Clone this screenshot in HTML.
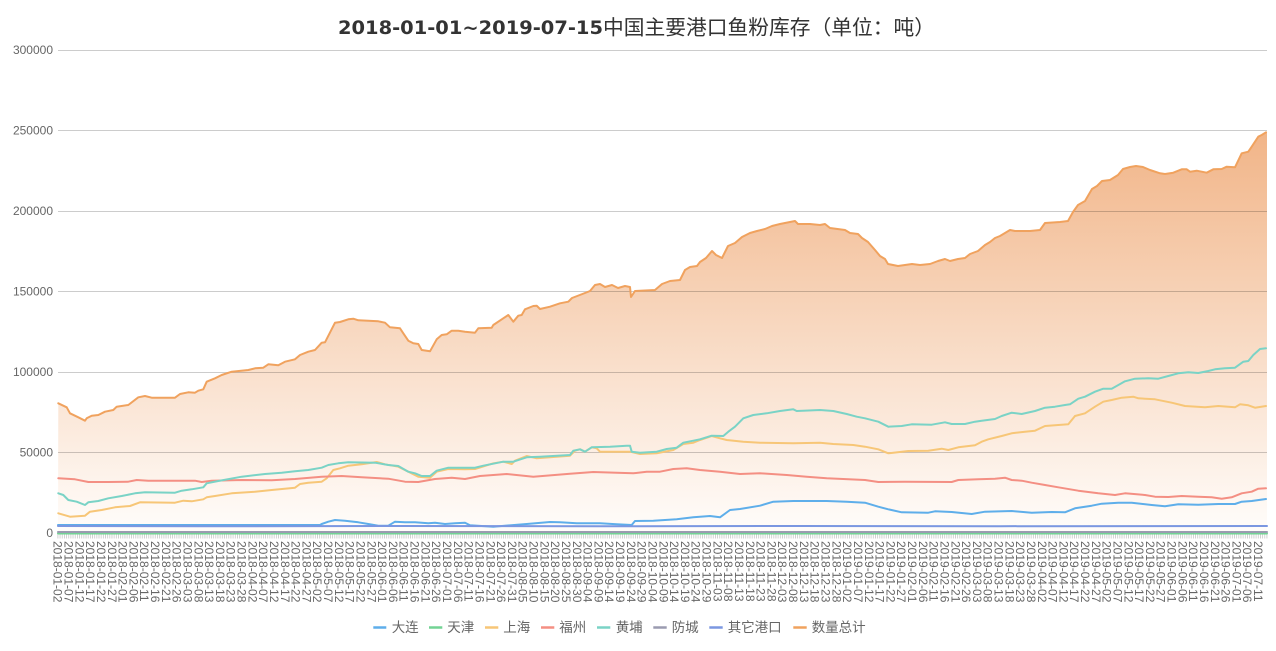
<!DOCTYPE html>
<html><head><meta charset="utf-8"><style>
html,body{margin:0;padding:0;background:#fff;}
svg{display:block;}
</style></head><body>
<svg width="1276" height="651" viewBox="0 0 1276 651" xmlns="http://www.w3.org/2000/svg">
<defs>
<linearGradient id="ag" gradientUnits="userSpaceOnUse" x1="0" y1="130" x2="0" y2="533">
<stop offset="0" stop-color="#f1b487"/>
<stop offset="1" stop-color="#fffdfb"/>
</linearGradient>
<pattern id="tk" patternUnits="userSpaceOnUse" x="57.5" y="0" width="2.1628" height="651">
<rect x="0" y="0" width="0.8" height="651" fill="#c8c8c8"/>
</pattern>
</defs>
<rect width="1276" height="651" fill="#fff"/>
<!-- title -->
<text y="34" font-size="19" fill="#333"><tspan x="338" font-family="'DejaVu Sans','Liberation Sans',sans-serif" font-weight="bold" textLength="265" lengthAdjust="spacingAndGlyphs">2018-01-01~2019-07-15</tspan></text>
<text x="603" y="34.5" font-size="20.5" fill="#333" font-family="'Liberation Sans','Noto Sans CJK SC',sans-serif" textLength="332" lengthAdjust="spacingAndGlyphs">中国主要港口鱼粉库存（单位：吨）</text>

<!-- total area -->
<polygon fill="url(#ag)" points="58,533 58.3,403.3 66.7,407.3 70,413.3 78.3,417.3 85,420.7 86.7,418.3 91.7,415.7 98.3,415 105,411.7 113.3,410 116.7,406.7 128.3,405 138.3,397.3 145,396 151.7,397.7 175,397.7 180,394 188.3,392.3 195,392.7 198.3,390.7 203.3,389.3 206.7,381.7 215,378.3 221.7,375 231.7,371.7 248.3,370 255,368.3 263.3,367.7 268.3,364.3 278.3,365.3 285,361.7 295,359.3 300,355 308.3,351.7 315,350 321.7,342.7 325,342.3 335,322.7 340,322 348.3,319.3 353.3,318.7 358.3,320.3 378.3,321.3 385,322.7 390,327.3 400,328.3 403.3,333.3 408.3,340.7 413.3,343.3 418.3,344 421.7,350 430,351.3 436.7,339.3 441.7,335 446.7,334.3 451.7,330.7 458.3,330.7 465,331.7 475,332.7 478.3,328.3 491.7,327.7 493.3,325 503.3,318.3 508.3,315 513.3,321.7 518.3,315.7 521.7,315 525,309.3 533.3,306 536.7,305.7 540,309 550,306.7 560,303.3 568.3,301.7 572,298 585,293 590,291 595,285 600,284 605,287 612,285 618,288 625,286 630,287 631,297 635,291 655,290 662,284 670,281 680,280 685,270 690,267 697,266 700,262 706,258 712,251 716,255 722,258 728,246 735,243 742,237 750,233 757,231 765,229 772,226 780,224 790,222 795,221 798,224 810,224 820,225 825,224 830,228 845,230 850,233 858,234 862,238 868,242 875,250 880,256 885,259 888,264 898,266 905,265 912,264 920,265 930,264 938,261 945,259 950,261 958,259 965,258 970,254 978,251 985,245 990,242 995,238 1000,236 1005,233 1010,230 1015,231 1030,231 1040,230 1045,223 1060,222 1068,221 1073,212 1078,205 1085,201 1092,189 1097,186 1102,181 1110,180 1118,175 1123,169 1130,167 1136,166 1143,167 1150,170 1160,173.3 1165,174 1173.3,172.7 1181.7,169.3 1186.7,169.3 1190,171.7 1196.7,170.7 1206.7,172.7 1213.3,169.3 1221.7,169 1226.7,166.7 1235,167.3 1241.7,153.3 1248.3,151.7 1251.7,146.7 1258.3,136.7 1261.7,135 1266,132.3 1267,132 1267,533"/>

<!-- grid lines -->
<g stroke="#000" stroke-opacity="0.2" stroke-width="1">
<line x1="58" y1="50.5" x2="1267" y2="50.5"/>
<line x1="58" y1="130.5" x2="1267" y2="130.5"/>
<line x1="58" y1="211.5" x2="1267" y2="211.5"/>
<line x1="58" y1="291.5" x2="1267" y2="291.5"/>
<line x1="58" y1="372.5" x2="1267" y2="372.5"/>
<line x1="58" y1="452.5" x2="1267" y2="452.5"/>
</g>

<!-- y labels -->
<g font-family="'Liberation Sans',sans-serif" font-size="12" fill="#666" text-anchor="end">
<text x="53" y="54">300000</text>
<text x="53" y="134.5">250000</text>
<text x="53" y="215">200000</text>
<text x="53" y="295.5">150000</text>
<text x="53" y="376">100000</text>
<text x="53" y="456.5">50000</text>
<text x="53" y="537">0</text>
</g>

<!-- ticks -->
<rect x="57.5" y="534.5" width="1210" height="4" fill="url(#tk)"/>

<g fill="none" stroke-width="2" stroke-linejoin="round" stroke-linecap="round">
<!-- 大连 -->
<polyline stroke="#5eaeea" points="58,525 320,525 321.7,524 328.3,521.7 335,520 345,520.7 358.3,522.3 368.3,524 378.3,525.7 388.3,525.7 395,521.7 405,522.3 415,522.3 428.3,523.3 435,522.7 445,524 455,523.3 465,522.7 470,525.3 493.3,526.7 526.7,524 550,522 560,522.3 576.7,523.3 600,523.3 616.7,524.3 631.7,525 635,521 653.3,520.7 676.7,519.3 693.3,517.3 710,516 720,517.3 730,510 740,509 760,505.7 773.3,501.7 793.3,501 813.3,501 826.7,501 846.7,501.7 865,502.7 878.3,506.7 888.3,509.3 901.7,512.3 928.3,512.7 935,511.3 951.7,512 971.7,514 985,511.7 1011.7,511 1031.7,512.7 1051.7,512 1065,512.3 1075,508.3 1091.7,505.7 1101.7,503.7 1118.3,502.7 1131.7,502.7 1151.7,505 1165,506.3 1178.3,504.3 1198.3,504.7 1218.3,504 1235,504 1241.7,501.7 1251.7,501 1266,499"/>
<!-- 天津 -->
<polyline stroke="#72d394" points="58,533.5 1267,533.5"/>
<!-- 上海 -->
<polyline stroke="#f7c677" points="58.3,513.3 70,516.7 85,515.7 90,511.7 101.7,510 115,507.3 130,506 140,502.3 175,502.7 183.3,500.7 191.7,501.3 203.3,499.3 206.7,497.3 215,496 231.7,493.3 255,491.7 271.7,490 295,487.7 300,484 308.3,482.7 321.7,481.7 326.7,478.3 333.3,470 340,468.3 348.3,465.7 361.7,464.3 376.7,462 385,464.3 398.3,466.7 408.3,471.7 418.3,476.7 430,477.7 436.7,471.7 448.3,469 465,469.3 475,469 493.3,463.3 503.3,461.7 511.7,464 515,460.7 526.7,456 536.7,458.3 570,455.7 575,450.7 580,449.3 585,451.7 591.7,447.3 596.7,448.3 600,451.7 610,451.7 630,451.7 640,454 656.7,453.3 673.3,450 683.3,444 693.3,442.7 700,440 711.7,436 720,438.3 726.7,440 743.3,441.7 760,442.7 793.3,443.3 820,442.7 833.3,444 853.3,445 865,446.7 878.3,449.3 888.3,453.3 908.3,451 928.3,450.7 941.7,448.7 948.3,450 958.3,447.3 975,445.3 981.7,441.7 988.3,439.3 1001.7,436 1011.7,433.3 1025,431.7 1035,430.7 1045,426 1068.3,424.3 1075,416 1085,413.3 1095,406.7 1103.3,401.7 1111.7,400 1121.7,397.7 1133.3,396.7 1138.3,398.3 1155,399.3 1171.7,402.7 1185,406 1205,407.3 1218.3,406 1235,407.3 1240,404.3 1248.3,405.3 1255,407.7 1266,406"/>
<!-- 福州 -->
<polyline stroke="#f48f83" points="58.3,478.3 75,479.3 88.3,482 108.3,482 128.3,481.7 136.7,480 148.3,480.7 195,480.7 201.7,482 211.7,480.7 241.7,480 271.7,480.3 295,479 321.7,476.7 341.7,476 361.7,477.3 388.3,478.7 405,481.7 418.3,482 435,479 451.7,477.7 465,479 480,476 506.7,474 533.3,476.7 570,473.7 593.3,472 616.7,472.7 633.3,473.3 646.7,471.7 660,471.7 673.3,469 686.7,468.3 700,470 720,471.7 740,474 760,473.3 786.7,475 806.7,476.7 826.7,478.3 865,480 878.3,482 905,481.7 951.7,482 958.3,480 978.3,479.3 995,478.7 1005,477.7 1011.7,480 1021.7,480.7 1031.7,482.7 1045,485 1058.3,487.3 1078.3,490.7 1098.3,493.3 1115,495 1125,493.3 1145,495 1155,496.7 1168.3,497 1181.7,496 1198.3,496.7 1211.7,497.3 1221.7,498.7 1231.7,497.3 1241.7,493.3 1251.7,491.7 1258.3,488.7 1266,488.3"/>
<!-- 黄埔 -->
<polyline stroke="#7ad3c6" points="58.3,493.3 63.3,495 68.3,500 76.7,501.7 85,505 88.3,502.3 98.3,501 108.3,498.3 121.7,496 135,493.3 145,492.3 175,492.7 181.7,490.7 191.7,489.3 203.3,487.3 206.7,483.3 218.3,481 241.7,476.7 265,474 281.7,472.7 295,471.3 308.3,470 321.7,467.7 328.3,465 338.3,463.3 348.3,462.3 375,462.7 388.3,465 398.3,466 408.3,471.7 415,473.3 421.7,476 430,476 436.7,470.7 448.3,467.7 465,467.7 475,467.7 483.3,465.7 503.3,461.7 513.3,461.7 526.7,457.3 540,456.7 570,455 573.3,450.7 580,449.3 585,451.7 591.7,447.3 610,446.7 626.7,445.7 630,445.7 631.7,451.7 640,452.7 656.7,451.7 666.7,449 676.7,447.7 683.3,442.7 693.3,440.7 700,439.3 711.7,435.7 723.3,436 728.3,431.7 735,426.7 743.3,418.3 753.3,415 766.7,413.3 780,411 793.3,409.3 796.7,411 820,410 833.3,411 846.7,414 856.7,416.7 865,418.3 878.3,421.7 888.3,426.7 901.7,426 911.7,424.3 931.7,424.7 945,422.3 951.7,424 965,424 975,421.7 981.7,420.7 995,419 1001.7,416 1011.7,412.7 1021.7,414 1035,411 1045,407.7 1055,406.7 1065,405 1070,404.3 1078.3,398.7 1085,396.7 1095,391.7 1103.3,388.7 1111.7,388.7 1125,381.3 1135,378.7 1148.3,378.3 1158.3,378.7 1168.3,376 1178.3,373.3 1188.3,372.3 1198.3,373 1208.3,371 1215,369.3 1225,368.3 1235,367.7 1243.3,361.7 1248.3,361 1253.3,355 1260,349 1266,348.3"/>
<!-- 防城 -->
<polyline stroke="#9a9bb0" points="58,532 1267,532"/>
<!-- 其它港口 -->
<polyline stroke="#7b97e1" points="58,526 200,526.3 400,526 600,526.3 800,526 1000,526.2 1267,526"/>
<!-- 数量总计 -->
<polyline stroke="#f0a25e" points="58.3,403.3 66.7,407.3 70,413.3 78.3,417.3 85,420.7 86.7,418.3 91.7,415.7 98.3,415 105,411.7 113.3,410 116.7,406.7 128.3,405 138.3,397.3 145,396 151.7,397.7 175,397.7 180,394 188.3,392.3 195,392.7 198.3,390.7 203.3,389.3 206.7,381.7 215,378.3 221.7,375 231.7,371.7 248.3,370 255,368.3 263.3,367.7 268.3,364.3 278.3,365.3 285,361.7 295,359.3 300,355 308.3,351.7 315,350 321.7,342.7 325,342.3 335,322.7 340,322 348.3,319.3 353.3,318.7 358.3,320.3 378.3,321.3 385,322.7 390,327.3 400,328.3 403.3,333.3 408.3,340.7 413.3,343.3 418.3,344 421.7,350 430,351.3 436.7,339.3 441.7,335 446.7,334.3 451.7,330.7 458.3,330.7 465,331.7 475,332.7 478.3,328.3 491.7,327.7 493.3,325 503.3,318.3 508.3,315 513.3,321.7 518.3,315.7 521.7,315 525,309.3 533.3,306 536.7,305.7 540,309 550,306.7 560,303.3 568.3,301.7 572,298 585,293 590,291 595,285 600,284 605,287 612,285 618,288 625,286 630,287 631,297 635,291 655,290 662,284 670,281 680,280 685,270 690,267 697,266 700,262 706,258 712,251 716,255 722,258 728,246 735,243 742,237 750,233 757,231 765,229 772,226 780,224 790,222 795,221 798,224 810,224 820,225 825,224 830,228 845,230 850,233 858,234 862,238 868,242 875,250 880,256 885,259 888,264 898,266 905,265 912,264 920,265 930,264 938,261 945,259 950,261 958,259 965,258 970,254 978,251 985,245 990,242 995,238 1000,236 1005,233 1010,230 1015,231 1030,231 1040,230 1045,223 1060,222 1068,221 1073,212 1078,205 1085,201 1092,189 1097,186 1102,181 1110,180 1118,175 1123,169 1130,167 1136,166 1143,167 1150,170 1160,173.3 1165,174 1173.3,172.7 1181.7,169.3 1186.7,169.3 1190,171.7 1196.7,170.7 1206.7,172.7 1213.3,169.3 1221.7,169 1226.7,166.7 1235,167.3 1241.7,153.3 1248.3,151.7 1251.7,146.7 1258.3,136.7 1261.7,135 1266,132.3"/>
</g>

<!-- x labels -->
<g font-family="'Liberation Sans',sans-serif" font-size="12" fill="#666">
<text transform="translate(58,541) rotate(90)" y="4.3">2018-01-02</text>
<text transform="translate(68.8,541) rotate(90)" y="4.3">2018-01-07</text>
<text transform="translate(79.6,541) rotate(90)" y="4.3">2018-01-12</text>
<text transform="translate(90.4,541) rotate(90)" y="4.3">2018-01-17</text>
<text transform="translate(101.3,541) rotate(90)" y="4.3">2018-01-22</text>
<text transform="translate(112.1,541) rotate(90)" y="4.3">2018-01-27</text>
<text transform="translate(122.9,541) rotate(90)" y="4.3">2018-02-01</text>
<text transform="translate(133.7,541) rotate(90)" y="4.3">2018-02-06</text>
<text transform="translate(144.5,541) rotate(90)" y="4.3">2018-02-11</text>
<text transform="translate(155.3,541) rotate(90)" y="4.3">2018-02-16</text>
<text transform="translate(166.1,541) rotate(90)" y="4.3">2018-02-21</text>
<text transform="translate(177,541) rotate(90)" y="4.3">2018-02-26</text>
<text transform="translate(187.8,541) rotate(90)" y="4.3">2018-03-03</text>
<text transform="translate(198.6,541) rotate(90)" y="4.3">2018-03-08</text>
<text transform="translate(209.4,541) rotate(90)" y="4.3">2018-03-13</text>
<text transform="translate(220.2,541) rotate(90)" y="4.3">2018-03-18</text>
<text transform="translate(231,541) rotate(90)" y="4.3">2018-03-23</text>
<text transform="translate(241.8,541) rotate(90)" y="4.3">2018-03-28</text>
<text transform="translate(252.7,541) rotate(90)" y="4.3">2018-04-02</text>
<text transform="translate(263.5,541) rotate(90)" y="4.3">2018-04-07</text>
<text transform="translate(274.3,541) rotate(90)" y="4.3">2018-04-12</text>
<text transform="translate(285.1,541) rotate(90)" y="4.3">2018-04-17</text>
<text transform="translate(295.9,541) rotate(90)" y="4.3">2018-04-22</text>
<text transform="translate(306.7,541) rotate(90)" y="4.3">2018-04-27</text>
<text transform="translate(317.5,541) rotate(90)" y="4.3">2018-05-02</text>
<text transform="translate(328.4,541) rotate(90)" y="4.3">2018-05-07</text>
<text transform="translate(339.2,541) rotate(90)" y="4.3">2018-05-12</text>
<text transform="translate(350,541) rotate(90)" y="4.3">2018-05-17</text>
<text transform="translate(360.8,541) rotate(90)" y="4.3">2018-05-22</text>
<text transform="translate(371.6,541) rotate(90)" y="4.3">2018-05-27</text>
<text transform="translate(382.4,541) rotate(90)" y="4.3">2018-06-01</text>
<text transform="translate(393.2,541) rotate(90)" y="4.3">2018-06-06</text>
<text transform="translate(404,541) rotate(90)" y="4.3">2018-06-11</text>
<text transform="translate(414.9,541) rotate(90)" y="4.3">2018-06-16</text>
<text transform="translate(425.7,541) rotate(90)" y="4.3">2018-06-21</text>
<text transform="translate(436.5,541) rotate(90)" y="4.3">2018-06-26</text>
<text transform="translate(447.3,541) rotate(90)" y="4.3">2018-07-01</text>
<text transform="translate(458.1,541) rotate(90)" y="4.3">2018-07-06</text>
<text transform="translate(468.9,541) rotate(90)" y="4.3">2018-07-11</text>
<text transform="translate(479.7,541) rotate(90)" y="4.3">2018-07-16</text>
<text transform="translate(490.6,541) rotate(90)" y="4.3">2018-07-21</text>
<text transform="translate(501.4,541) rotate(90)" y="4.3">2018-07-26</text>
<text transform="translate(512.2,541) rotate(90)" y="4.3">2018-07-31</text>
<text transform="translate(523,541) rotate(90)" y="4.3">2018-08-05</text>
<text transform="translate(533.8,541) rotate(90)" y="4.3">2018-08-10</text>
<text transform="translate(544.6,541) rotate(90)" y="4.3">2018-08-15</text>
<text transform="translate(555.4,541) rotate(90)" y="4.3">2018-08-20</text>
<text transform="translate(566.3,541) rotate(90)" y="4.3">2018-08-25</text>
<text transform="translate(577.1,541) rotate(90)" y="4.3">2018-08-30</text>
<text transform="translate(587.9,541) rotate(90)" y="4.3">2018-09-04</text>
<text transform="translate(598.7,541) rotate(90)" y="4.3">2018-09-09</text>
<text transform="translate(609.5,541) rotate(90)" y="4.3">2018-09-14</text>
<text transform="translate(620.3,541) rotate(90)" y="4.3">2018-09-19</text>
<text transform="translate(631.1,541) rotate(90)" y="4.3">2018-09-24</text>
<text transform="translate(642,541) rotate(90)" y="4.3">2018-09-29</text>
<text transform="translate(652.8,541) rotate(90)" y="4.3">2018-10-04</text>
<text transform="translate(663.6,541) rotate(90)" y="4.3">2018-10-09</text>
<text transform="translate(674.4,541) rotate(90)" y="4.3">2018-10-14</text>
<text transform="translate(685.2,541) rotate(90)" y="4.3">2018-10-19</text>
<text transform="translate(696,541) rotate(90)" y="4.3">2018-10-24</text>
<text transform="translate(706.8,541) rotate(90)" y="4.3">2018-10-29</text>
<text transform="translate(717.7,541) rotate(90)" y="4.3">2018-11-03</text>
<text transform="translate(728.5,541) rotate(90)" y="4.3">2018-11-08</text>
<text transform="translate(739.3,541) rotate(90)" y="4.3">2018-11-13</text>
<text transform="translate(750.1,541) rotate(90)" y="4.3">2018-11-18</text>
<text transform="translate(760.9,541) rotate(90)" y="4.3">2018-11-23</text>
<text transform="translate(771.7,541) rotate(90)" y="4.3">2018-11-28</text>
<text transform="translate(782.5,541) rotate(90)" y="4.3">2018-12-03</text>
<text transform="translate(793.4,541) rotate(90)" y="4.3">2018-12-08</text>
<text transform="translate(804.2,541) rotate(90)" y="4.3">2018-12-13</text>
<text transform="translate(815,541) rotate(90)" y="4.3">2018-12-18</text>
<text transform="translate(825.8,541) rotate(90)" y="4.3">2018-12-23</text>
<text transform="translate(836.6,541) rotate(90)" y="4.3">2018-12-28</text>
<text transform="translate(847.4,541) rotate(90)" y="4.3">2019-01-02</text>
<text transform="translate(858.2,541) rotate(90)" y="4.3">2019-01-07</text>
<text transform="translate(869.1,541) rotate(90)" y="4.3">2019-01-12</text>
<text transform="translate(879.9,541) rotate(90)" y="4.3">2019-01-17</text>
<text transform="translate(890.7,541) rotate(90)" y="4.3">2019-01-22</text>
<text transform="translate(901.5,541) rotate(90)" y="4.3">2019-01-27</text>
<text transform="translate(912.3,541) rotate(90)" y="4.3">2019-02-01</text>
<text transform="translate(923.1,541) rotate(90)" y="4.3">2019-02-06</text>
<text transform="translate(933.9,541) rotate(90)" y="4.3">2019-02-11</text>
<text transform="translate(944.7,541) rotate(90)" y="4.3">2019-02-16</text>
<text transform="translate(955.6,541) rotate(90)" y="4.3">2019-02-21</text>
<text transform="translate(966.4,541) rotate(90)" y="4.3">2019-02-26</text>
<text transform="translate(977.2,541) rotate(90)" y="4.3">2019-03-03</text>
<text transform="translate(988,541) rotate(90)" y="4.3">2019-03-08</text>
<text transform="translate(998.8,541) rotate(90)" y="4.3">2019-03-13</text>
<text transform="translate(1009.6,541) rotate(90)" y="4.3">2019-03-18</text>
<text transform="translate(1020.4,541) rotate(90)" y="4.3">2019-03-23</text>
<text transform="translate(1031.3,541) rotate(90)" y="4.3">2019-03-28</text>
<text transform="translate(1042.1,541) rotate(90)" y="4.3">2019-04-02</text>
<text transform="translate(1052.9,541) rotate(90)" y="4.3">2019-04-07</text>
<text transform="translate(1063.7,541) rotate(90)" y="4.3">2019-04-12</text>
<text transform="translate(1074.5,541) rotate(90)" y="4.3">2019-04-17</text>
<text transform="translate(1085.3,541) rotate(90)" y="4.3">2019-04-22</text>
<text transform="translate(1096.1,541) rotate(90)" y="4.3">2019-04-27</text>
<text transform="translate(1107,541) rotate(90)" y="4.3">2019-05-02</text>
<text transform="translate(1117.8,541) rotate(90)" y="4.3">2019-05-07</text>
<text transform="translate(1128.6,541) rotate(90)" y="4.3">2019-05-12</text>
<text transform="translate(1139.4,541) rotate(90)" y="4.3">2019-05-17</text>
<text transform="translate(1150.2,541) rotate(90)" y="4.3">2019-05-22</text>
<text transform="translate(1161,541) rotate(90)" y="4.3">2019-05-27</text>
<text transform="translate(1171.8,541) rotate(90)" y="4.3">2019-06-01</text>
<text transform="translate(1182.7,541) rotate(90)" y="4.3">2019-06-06</text>
<text transform="translate(1193.5,541) rotate(90)" y="4.3">2019-06-11</text>
<text transform="translate(1204.3,541) rotate(90)" y="4.3">2019-06-16</text>
<text transform="translate(1215.1,541) rotate(90)" y="4.3">2019-06-21</text>
<text transform="translate(1225.9,541) rotate(90)" y="4.3">2019-06-26</text>
<text transform="translate(1236.7,541) rotate(90)" y="4.3">2019-07-01</text>
<text transform="translate(1247.5,541) rotate(90)" y="4.3">2019-07-06</text>
<text transform="translate(1258.4,541) rotate(90)" y="4.3">2019-07-11</text>
</g>

<!-- legend -->
<g stroke-width="2.5">
<line x1="373.3" y1="627.5" x2="386.3" y2="627.5" stroke="#5eaeea"/>
<line x1="429" y1="627.5" x2="442.3" y2="627.5" stroke="#72d394"/>
<line x1="485" y1="627.5" x2="498.3" y2="627.5" stroke="#f7c677"/>
<line x1="541" y1="627.5" x2="554.3" y2="627.5" stroke="#f48f83"/>
<line x1="597" y1="627.5" x2="610.3" y2="627.5" stroke="#7ad3c6"/>
<line x1="653.3" y1="627.5" x2="666.7" y2="627.5" stroke="#9a9bb0"/>
<line x1="709.3" y1="627.5" x2="722.7" y2="627.5" stroke="#7b97e1"/>
<line x1="793.3" y1="627.5" x2="806.7" y2="627.5" stroke="#f0a25e"/>
</g>
<g font-family="'Liberation Sans','Noto Sans CJK SC',sans-serif" font-size="13.5" fill="#666">
<text x="391.7" y="632">大连</text>
<text x="447.3" y="632">天津</text>
<text x="503.3" y="632">上海</text>
<text x="559.3" y="632">福州</text>
<text x="615.7" y="632">黄埔</text>
<text x="671.7" y="632">防城</text>
<text x="727.7" y="632">其它港口</text>
<text x="811.7" y="632">数量总计</text>
</g>
</svg>
</body></html>
